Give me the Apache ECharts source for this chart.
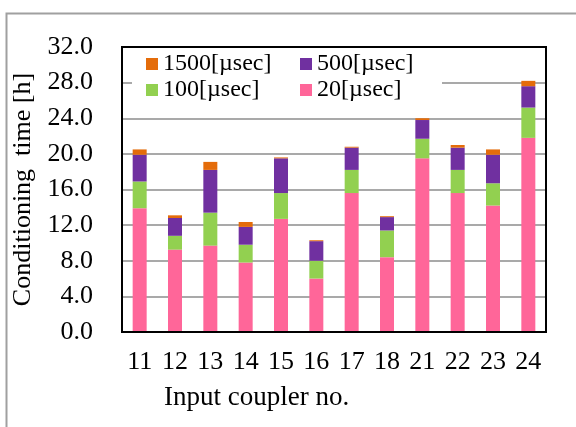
<!DOCTYPE html>
<html>
<head>
<meta charset="utf-8">
<script src="https://cdn.jsdelivr.net/npm/echarts@6/dist/echarts.min.js"></script>
<style>html,body{margin:0;padding:0;background:#fff}#c{width:576px;height:427px}</style>
</head>
<body>
<div id="c"></div>
<script>
const categories = ['11','12','13','14','15','16','17','18','21','22','23','24'];
const s20 = [13.9, 9.25, 9.7, 7.8, 12.7, 6.0, 15.6, 8.4, 19.5, 15.6, 14.2, 21.8];
const s100 = [3.0, 1.55, 3.7, 2.0, 2.9, 2.0, 2.6, 3.0, 2.2, 2.6, 2.5, 3.4];
const s500 = [3.0, 2.0, 4.8, 2.0, 3.9, 2.2, 2.5, 1.5, 2.1, 2.5, 3.2, 2.4];
const s1500 = [0.6, 0.3, 0.9, 0.55, 0.1, 0.1, 0.1, 0.1, 0.2, 0.3, 0.6, 0.6];
const yTicks = [0, 4, 8, 12, 16, 20, 24, 28, 32];

const FONT = 'Liberation Serif';
const chart = echarts.init(document.getElementById('c'));
function leg(name, left, top) {
  return {
    data: [name], left: left, top: top, padding: 0, selectedMode: false,
    icon: 'rect', itemWidth: 12, itemHeight: 12, itemGap: 5, z: 10,
    textStyle: { fontFamily: FONT, fontSize: 24, color: '#000', lineHeight: 24 }
  };
}
chart.setOption({
  animation: false,
  backgroundColor: '#fff',
  title: {
    text: 'Input coupler no.', left: 164, top: 384, padding: 0,
    textStyle: { fontFamily: FONT, fontSize: 27, fontWeight: 'normal', color: '#000' }
  },
  legend: [
    leg('1500[µsec]', 146, 52),
    leg('500[µsec]', 300, 52),
    leg('100[µsec]', 146, 78),
    leg('20[µsec]', 300, 78)
  ],
  grid: { left: 122, right: 30, top: 47, bottom: 95, show: false },
  xAxis: {
    type: 'category', data: categories,
    axisLine: { show: false }, axisTick: { show: false },
    axisLabel: { fontFamily: FONT, fontSize: 26, color: '#000', margin: 17 }
  },
  yAxis: {
    type: 'value', min: yTicks[0], max: yTicks[yTicks.length - 1], interval: 4,
    name: 'Conditioning  time [h]', nameLocation: 'middle', nameGap: 78,
    nameTextStyle: { fontFamily: FONT, fontSize: 26, color: '#000' },
    axisLine: { show: false }, axisTick: { show: false },
    axisLabel: { fontFamily: FONT, fontSize: 26, color: '#000', margin: 29,
      formatter: v => v.toFixed(1) },
    splitLine: { lineStyle: { color: '#8c8c8c', width: 1.5 } }
  },
  graphic: { elements: [
    { type: 'rect', z: 3, shape: { x: 132, y: 49, width: 310, height: 53 },
      style: { fill: '#fff', stroke: null } },
    { type: 'rect', z: 20, shape: { x: 122, y: 47, width: 424, height: 285 },
      style: { fill: null, stroke: '#000', lineWidth: 2 } },
    { type: 'rect', z: 20, shape: { x: 6.5, y: 13.5, width: 700, height: 600 },
      style: { fill: null, stroke: '#a0a0a0', lineWidth: 2 } }
  ] },
  series: [
    { name: '20[µsec]', type: 'bar', stack: 't', data: s20, barWidth: 14, itemStyle: { color: '#FF6699' } },
    { name: '100[µsec]', type: 'bar', stack: 't', data: s100, barWidth: 14, itemStyle: { color: '#92D050' } },
    { name: '500[µsec]', type: 'bar', stack: 't', data: s500, barWidth: 14, itemStyle: { color: '#7030A0' } },
    { name: '1500[µsec]', type: 'bar', stack: 't', data: s1500, barWidth: 14, itemStyle: { color: '#E46C0A' } }
  ]
});
</script>
</body>
</html>
